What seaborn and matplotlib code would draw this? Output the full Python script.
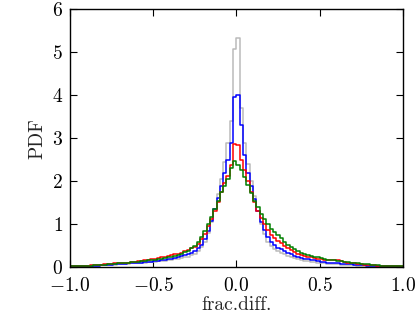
import matplotlib
matplotlib.use("Agg")
import matplotlib.pyplot as plt
import seaborn as sns
import numpy as np
import pandas as pd

# -------------------------------
# DATA (PDF heights per bin, bin width 0.02 from -1 to 1)
# -------------------------------
bin_edges = np.round(np.arange(-1.0, 1.0001, 0.02), 2)
bin_centers = (bin_edges[:-1] + bin_edges[1:]) / 2

gray_pdf = [
    0.02, 0.02, 0.03, 0.02, 0.03, 0.03, 0.03, 0.04, 0.04, 0.05,
    0.05, 0.05, 0.06, 0.06, 0.07, 0.07, 0.08, 0.08, 0.09, 0.09,
    0.10, 0.10, 0.11, 0.12, 0.12, 0.13, 0.14, 0.15, 0.15, 0.16,
    0.17, 0.19, 0.20, 0.21, 0.23, 0.25, 0.28, 0.32, 0.38, 0.47,
    0.60, 0.80, 1.05, 1.35, 1.70, 2.05, 2.45, 2.90, 3.40, 5.08,
    5.33, 3.70, 2.90, 2.40, 2.00, 1.65, 1.30, 1.00, 0.78, 0.60,
    0.50, 0.43, 0.38, 0.34, 0.30, 0.26, 0.23, 0.21, 0.19, 0.17,
    0.15, 0.14, 0.13, 0.12, 0.11, 0.10, 0.09, 0.08, 0.08, 0.07,
    0.07, 0.06, 0.06, 0.06, 0.05, 0.05, 0.04, 0.04, 0.04, 0.03,
    0.03, 0.03, 0.03, 0.02, 0.02, 0.02, 0.02, 0.01, 0.01, 0.01,
]

blue_pdf = [
    0.02, 0.02, 0.02, 0.03, 0.03, 0.03, 0.04, 0.04, 0.04, 0.05,
    0.05, 0.06, 0.06, 0.07, 0.07, 0.08, 0.08, 0.09, 0.09, 0.10,
    0.10, 0.11, 0.12, 0.13, 0.13, 0.14, 0.15, 0.17, 0.18, 0.19,
    0.20, 0.22, 0.24, 0.26, 0.28, 0.30, 0.33, 0.37, 0.44, 0.53,
    0.65, 0.85, 1.08, 1.35, 1.62, 1.90, 2.20, 2.50, 2.90, 3.97,
    4.00, 3.30, 2.60, 2.20, 1.88, 1.58, 1.30, 1.05, 0.86, 0.70,
    0.60, 0.52, 0.46, 0.42, 0.37, 0.33, 0.30, 0.27, 0.24, 0.22,
    0.20, 0.19, 0.17, 0.16, 0.14, 0.13, 0.12, 0.11, 0.10, 0.10,
    0.09, 0.08, 0.08, 0.07, 0.07, 0.06, 0.06, 0.05, 0.05, 0.04,
    0.04, 0.04, 0.03, 0.03, 0.03, 0.02, 0.02, 0.02, 0.02, 0.01,
]

red_pdf = [
    0.02, 0.03, 0.03, 0.03, 0.04, 0.04, 0.05, 0.05, 0.06, 0.06,
    0.07, 0.07, 0.08, 0.09, 0.09, 0.10, 0.11, 0.11, 0.12, 0.13,
    0.14, 0.15, 0.17, 0.18, 0.19, 0.20, 0.22, 0.23, 0.25, 0.27,
    0.28, 0.30, 0.32, 0.34, 0.37, 0.40, 0.44, 0.48, 0.55, 0.65,
    0.78, 0.95, 1.12, 1.32, 1.52, 1.75, 1.95, 2.12, 2.38, 2.87,
    2.85, 2.50, 2.26, 2.00, 1.75, 1.52, 1.32, 1.15, 1.00, 0.86,
    0.76, 0.68, 0.62, 0.56, 0.50, 0.45, 0.40, 0.36, 0.32, 0.29,
    0.27, 0.25, 0.24, 0.22, 0.20, 0.19, 0.18, 0.17, 0.17, 0.18,
    0.17, 0.15, 0.13, 0.11, 0.10, 0.09, 0.08, 0.07, 0.06, 0.06,
    0.05, 0.05, 0.04, 0.04, 0.03, 0.03, 0.03, 0.02, 0.02, 0.02,
]

green_pdf = [
    0.02, 0.03, 0.03, 0.03, 0.04, 0.04, 0.04, 0.05, 0.05, 0.06,
    0.06, 0.07, 0.08, 0.08, 0.09, 0.09, 0.10, 0.11, 0.12, 0.12,
    0.13, 0.14, 0.15, 0.16, 0.17, 0.18, 0.19, 0.20, 0.22, 0.23,
    0.25, 0.27, 0.29, 0.31, 0.35, 0.39, 0.44, 0.50, 0.58, 0.70,
    0.84, 1.00, 1.18, 1.36, 1.55, 1.74, 1.90, 2.05, 2.30, 2.46,
    2.38, 2.26, 2.10, 1.92, 1.72, 1.55, 1.40, 1.25, 1.12, 1.00,
    0.90, 0.82, 0.76, 0.68, 0.60, 0.53, 0.47, 0.42, 0.38, 0.34,
    0.31, 0.29, 0.27, 0.25, 0.23, 0.21, 0.19, 0.18, 0.17, 0.16,
    0.15, 0.14, 0.13, 0.12, 0.11, 0.10, 0.09, 0.08, 0.07, 0.07,
    0.06, 0.05, 0.05, 0.04, 0.04, 0.03, 0.03, 0.03, 0.02, 0.02,
]

series = [
    (gray_pdf, "#bababa"),
    (blue_pdf, "blue"),
    (red_pdf, "red"),
    (green_pdf, "green"),
]

# -------------------------------
# STYLE
# -------------------------------
sns.set_style("ticks")
plt.rcParams.update({
    "font.family": "serif",
    "font.serif": ["cmr10", "DejaVu Serif"],
    "mathtext.fontset": "cm",
    "axes.formatter.use_mathtext": True,
    "axes.unicode_minus": True,
    "font.size": 14,
    "xtick.direction": "in",
    "ytick.direction": "in",
    "xtick.top": True,
    "ytick.right": True,
    "xtick.major.size": 5,
    "ytick.major.size": 5,
    "xtick.major.pad": 7,
    "ytick.major.pad": 5,
    "axes.linewidth": 1.0,
    "axes.edgecolor": "black",
    "xtick.color": "black",
    "ytick.color": "black",
})

fig = plt.figure(figsize=(4.16, 3.16), dpi=100)
ax = fig.add_axes([0.168, 0.154, 0.801, 0.817])

for values, color in series:
    df = pd.DataFrame({"x": bin_centers, "w": values})
    sns.histplot(data=df, x="x", weights="w", bins=list(bin_edges), element="step",
                 fill=False, color=color, linewidth=1.1, ax=ax)

ax.set_xlim(-1, 1)
ax.set_ylim(0, 6)
ax.set_xticks([-1.0, -0.5, 0.0, 0.5, 1.0])
ax.set_yticks([0, 1, 2, 3, 4, 5, 6])
ax.tick_params(labelsize=14)
ax.set_xlabel("frac.diff.", fontsize=14, labelpad=1)
ax.set_ylabel("PDF", fontsize=14, labelpad=4)
for side in ["top", "right", "left", "bottom"]:
    ax.spines[side].set_visible(True)

fig.savefig("out.png", dpi=100)
